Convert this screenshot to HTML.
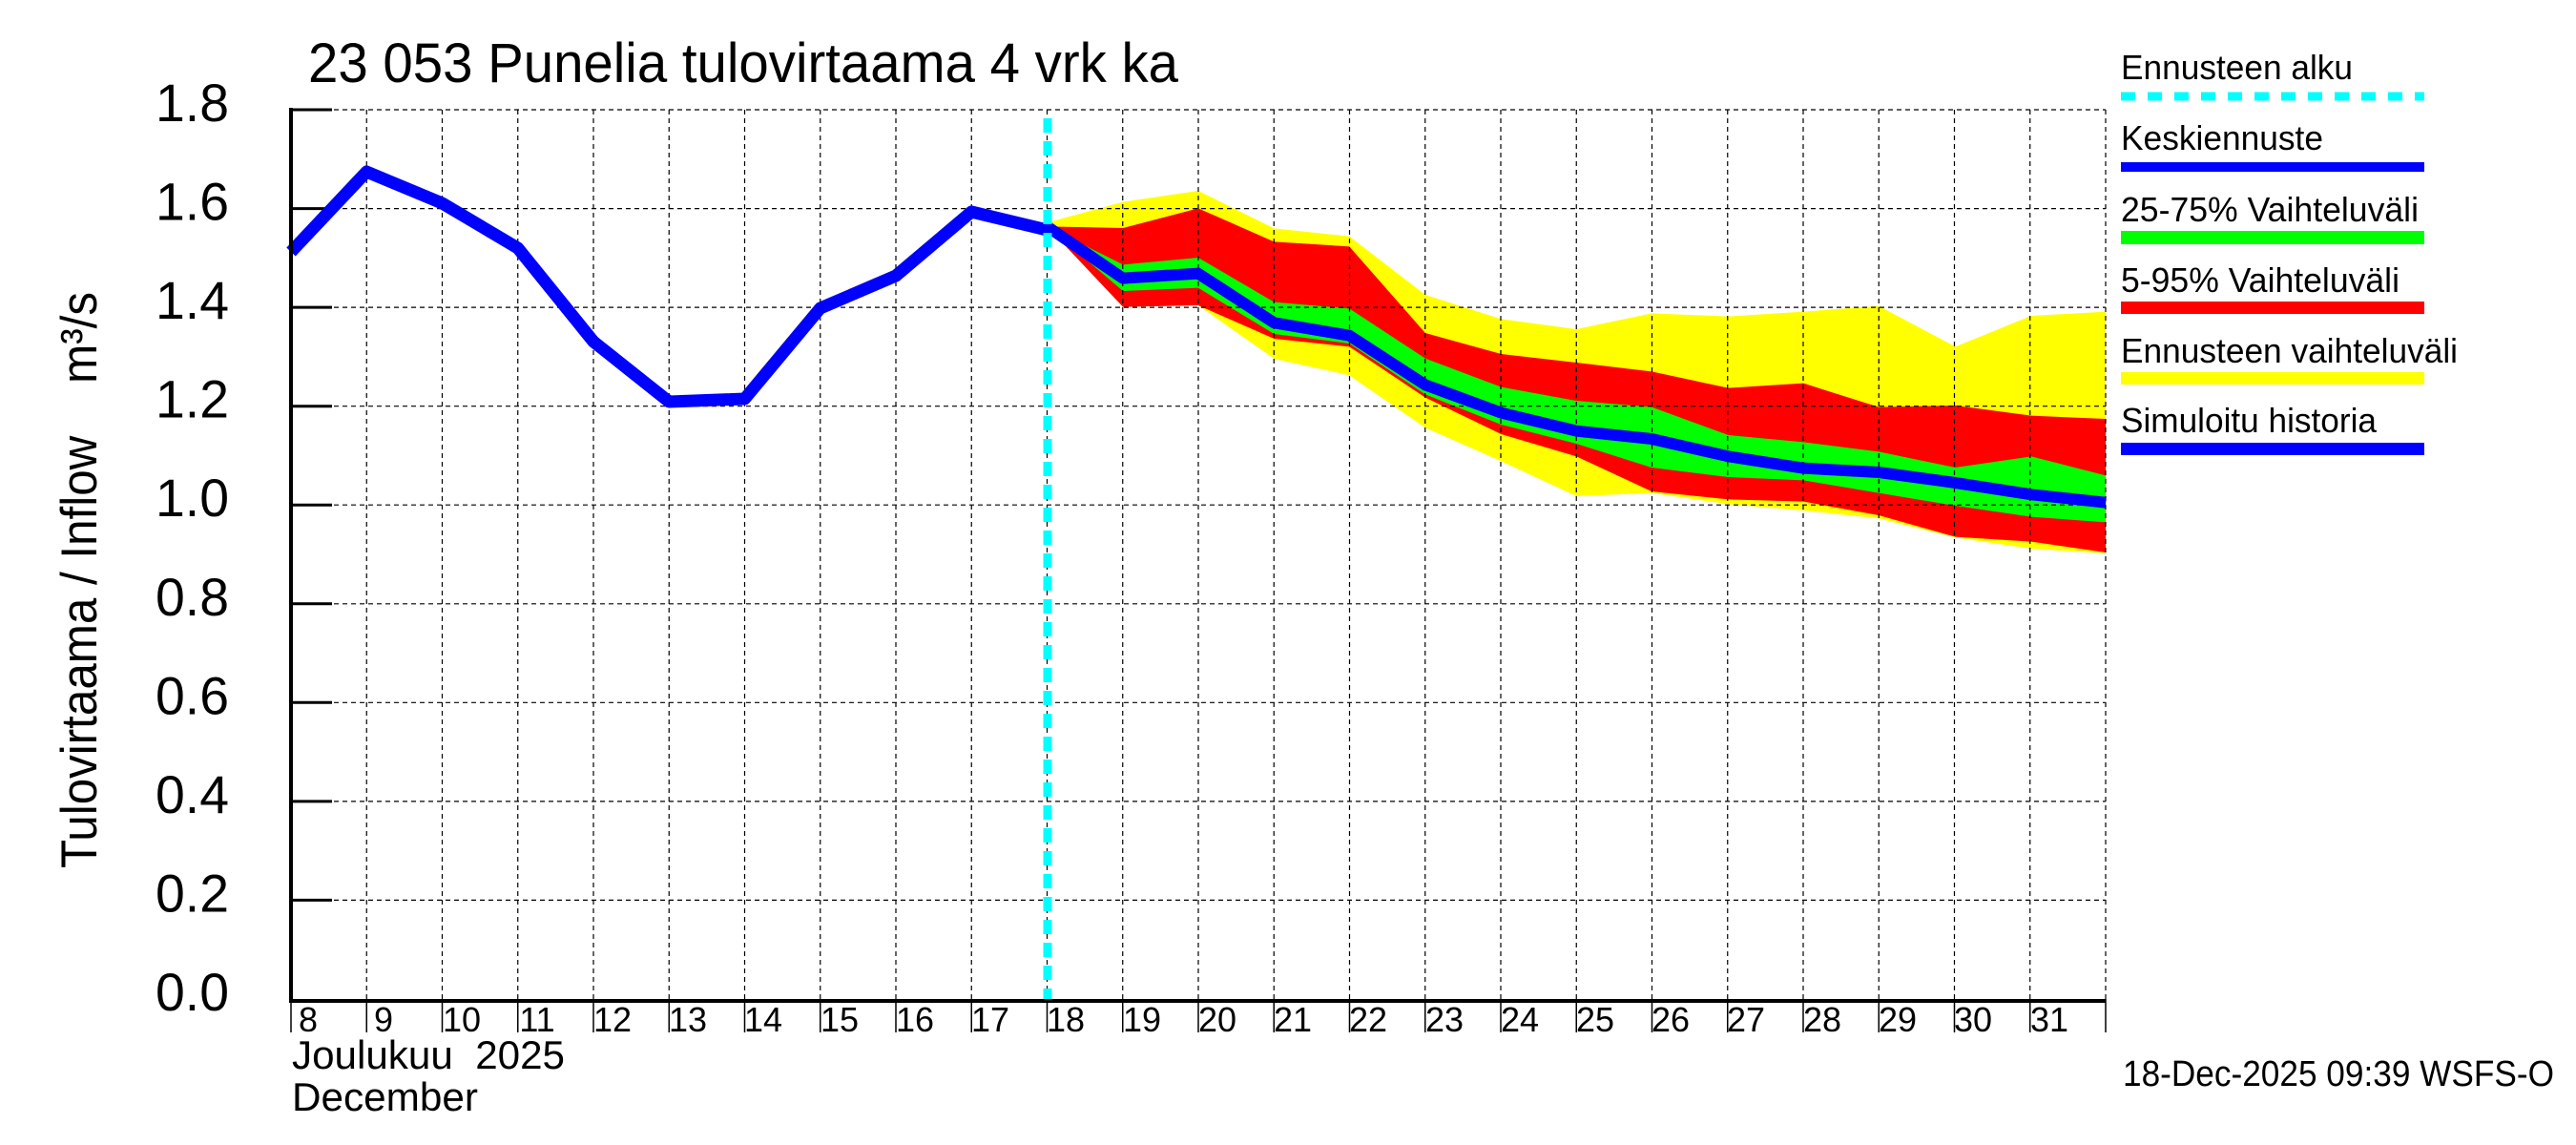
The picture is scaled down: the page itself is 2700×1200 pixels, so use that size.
<!DOCTYPE html>
<html><head><meta charset="utf-8"><style>
html,body{margin:0;padding:0;background:#fff}
svg{display:block}
text{font-family:"Liberation Sans",sans-serif;fill:#000}
</style></head><body>
<svg width="2700" height="1200" viewBox="0 0 2700 1200" xmlns="http://www.w3.org/2000/svg">
<rect width="2700" height="1200" fill="#fff"/>
<g transform="translate(1050,150) scale(0.76531,0.33333)">
<polygon fill="#ffff00" points="62,250 166,185 269,150 373,268 476,293 580,477 684,553 787,585 890,535 995,545 1098,530 1201,512 1306,640 1410,543 1512,530 1512,1290 1410,1275 1306,1240 1201,1180 1098,1155 995,1135 890,1100 787,1110 684,1000 580,895 476,730 373,678 269,510 166,515 62,262"/>
<polygon fill="#ff0000" points="62,262 166,267 269,205 373,310 476,325 580,597 684,663 787,690 890,718 995,770 1098,755 1201,830 1306,825 1410,857 1512,867 1512,1287 1410,1253 1306,1238 1201,1170 1098,1127 995,1120 890,1095 787,985 684,915 580,800 476,640 373,615 269,510 166,515 62,262"/>
<polygon fill="#00ff00" points="62,262 166,382 269,360 373,500 476,520 580,677 684,767 787,810 890,830 995,918 1098,940 1201,970 1306,1020 1410,985 1512,1045 1512,1192 1410,1175 1306,1140 1201,1100 1098,1060 995,1050 890,1020 787,945 684,885 580,790 476,630 373,600 269,455 166,465 62,262"/>
</g>
<g stroke="#000" stroke-width="1.2" stroke-dasharray="5,4" fill="none">
<path d="M305 115H2207M305 218.6H2207M305 322.1H2207M305 425.7H2207M305 529.2H2207M305 632.8H2207M305 736.3H2207M305 839.9H2207M305 943.4H2207"/>
<path d="M384.25 115V1047M463.5 115V1047M542.75 115V1047M622 115V1047M701.25 115V1047M780.5 115V1047M859.75 115V1047M939 115V1047M1018.25 115V1047M1097.5 115V1047M1176.75 115V1047M1256 115V1047M1335.25 115V1047M1414.5 115V1047M1493.75 115V1047M1573 115V1047M1652.25 115V1047M1731.5 115V1047M1810.75 115V1047M1890 115V1047M1969.25 115V1047M2048.5 115V1047M2127.75 115V1047M2207 115V1047"/>
</g>
<g stroke="#000" stroke-width="1.5">
<path d="M305 1047V1082M384.25 1047V1082M463.5 1047V1082M542.75 1047V1082M622 1047V1082M701.25 1047V1082M780.5 1047V1082M859.75 1047V1082M939 1047V1082M1018.25 1047V1082M1097.5 1047V1082M1176.75 1047V1082M1256 1047V1082M1335.25 1047V1082M1414.5 1047V1082M1493.75 1047V1082M1573 1047V1082M1652.25 1047V1082M1731.5 1047V1082M1810.75 1047V1082M1890 1047V1082M1969.25 1047V1082M2048.5 1047V1082M2127.75 1047V1082M2207 1047V1082"/>
</g>
<g stroke="#000" stroke-width="3">
<path d="M305 115H348M305 218.6H348M305 322.1H348M305 425.7H348M305 529.2H348M305 632.8H348M305 736.3H348M305 839.9H348M305 943.4H348"/>
</g>
<g transform="translate(1050,150) scale(0.76531,0.33333)">
<polyline fill="none" stroke="#0000ff" stroke-width="12" vector-effect="non-scaling-stroke" stroke-linejoin="round" points="62,262 166,425 269,410 373,565 476,605 580,760 684,848 787,905 890,930 995,985 1098,1022 1201,1035 1306,1068 1410,1105 1512,1130"/>
</g>
<polyline fill="none" stroke="#0000ff" stroke-width="13" stroke-linejoin="round" points="305,264 384.25,180 463.5,213 542.75,260 622,358 701.25,421 780.5,418 859.75,323 939,289 1018.25,222 1097.5,241"/>
<line x1="1098" y1="124" x2="1098" y2="1047" stroke="#00ffff" stroke-width="9" stroke-dasharray="15,9"/>
<path d="M305 113V1049H2207" stroke="#000" stroke-width="4" fill="none"/>
<g font-size="56" text-anchor="end">
<text x="240" y="127" textLength="77" lengthAdjust="spacingAndGlyphs">1.8</text><text x="240" y="230.6" textLength="77" lengthAdjust="spacingAndGlyphs">1.6</text><text x="240" y="334.1" textLength="77" lengthAdjust="spacingAndGlyphs">1.4</text><text x="240" y="437.7" textLength="77" lengthAdjust="spacingAndGlyphs">1.2</text><text x="240" y="541.2" textLength="77" lengthAdjust="spacingAndGlyphs">1.0</text><text x="240" y="644.8" textLength="77" lengthAdjust="spacingAndGlyphs">0.8</text><text x="240" y="748.3" textLength="77" lengthAdjust="spacingAndGlyphs">0.6</text><text x="240" y="851.9" textLength="77" lengthAdjust="spacingAndGlyphs">0.4</text><text x="240" y="955.4" textLength="77" lengthAdjust="spacingAndGlyphs">0.2</text><text x="240" y="1059" textLength="77" lengthAdjust="spacingAndGlyphs">0.0</text>
</g>
<text x="101" y="608" font-size="53" text-anchor="middle" transform="rotate(-90 101 608)" textLength="604" lengthAdjust="spacingAndGlyphs" xml:space="preserve">Tulovirtaama / Inflow    m³/s</text>
<text x="323" y="86" font-size="58" textLength="912" lengthAdjust="spacingAndGlyphs">23 053 Punelia tulovirtaama 4 vrk ka</text>
<g font-size="36" text-anchor="middle">
<text x="323" y="1081">8</text><text x="402" y="1081">9</text><text x="484" y="1081">10</text><text x="563" y="1081">11</text><text x="642" y="1081">12</text><text x="721" y="1081">13</text><text x="800" y="1081">14</text><text x="880" y="1081">15</text><text x="959" y="1081">16</text><text x="1038" y="1081">17</text><text x="1117" y="1081">18</text><text x="1197" y="1081">19</text><text x="1276" y="1081">20</text><text x="1355" y="1081">21</text><text x="1434" y="1081">22</text><text x="1514" y="1081">23</text><text x="1593" y="1081">24</text><text x="1672" y="1081">25</text><text x="1751" y="1081">26</text><text x="1830" y="1081">27</text><text x="1910" y="1081">28</text><text x="1989" y="1081">29</text><text x="2068" y="1081">30</text><text x="2148" y="1081">31</text>
</g>
<text x="306" y="1120" font-size="42" textLength="286" lengthAdjust="spacingAndGlyphs" xml:space="preserve">Joulukuu  2025</text>
<text x="306" y="1164" font-size="42" textLength="195" lengthAdjust="spacingAndGlyphs">December</text>
<g font-size="36">
<text x="2223" y="83" textLength="243" lengthAdjust="spacingAndGlyphs">Ennusteen alku</text>
<text x="2223" y="157" textLength="212" lengthAdjust="spacingAndGlyphs">Keskiennuste</text>
<text x="2223" y="232" textLength="312" lengthAdjust="spacingAndGlyphs">25-75% Vaihteluväli</text>
<text x="2223" y="306" textLength="292" lengthAdjust="spacingAndGlyphs">5-95% Vaihteluväli</text>
<text x="2223" y="380" textLength="353" lengthAdjust="spacingAndGlyphs">Ennusteen vaihteluväli</text>
<text x="2223" y="453" textLength="268" lengthAdjust="spacingAndGlyphs">Simuloitu historia</text>
</g>
<line x1="2223" y1="101" x2="2541" y2="101" stroke="#00ffff" stroke-width="9" stroke-dasharray="15,13"/>
<rect x="2223" y="170" width="318" height="10" fill="#0000ff"/>
<rect x="2223" y="242" width="318" height="14" fill="#00ff00"/>
<rect x="2223" y="316" width="318" height="13" fill="#ff0000"/>
<rect x="2223" y="390" width="318" height="13" fill="#ffff00"/>
<rect x="2223" y="464" width="318" height="13" fill="#0000ff"/>
<text x="2225" y="1138" font-size="38" textLength="452" lengthAdjust="spacingAndGlyphs">18-Dec-2025 09:39 WSFS-O</text>
</svg>
</body></html>
